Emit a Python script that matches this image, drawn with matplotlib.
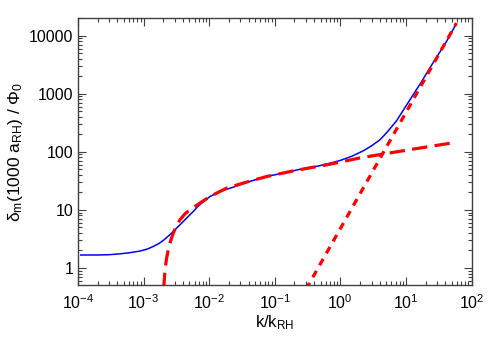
import matplotlib
matplotlib.use('Agg')
import matplotlib.pyplot as plt
from matplotlib.ticker import LogLocator, NullFormatter, FixedLocator, FixedFormatter

plt.rcParams['font.family'] = ['Liberation Sans', 'DejaVu Sans']
plt.rcParams['mathtext.fontset'] = 'custom'
plt.rcParams['mathtext.rm'] = 'Liberation Sans'
plt.rcParams['mathtext.it'] = 'Liberation Sans'

# full result (blue)
k_full = [1.1e-4, 2e-4, 3e-4, 4.4e-4, 6e-4, 8.8e-4, 1.15e-3, 1.41e-3, 1.7e-3, 2.0e-3, 2.4e-3,
          2.84e-3, 3.4e-3, 4.03e-3, 4.8e-3, 5.73e-3, 6.6e-3, 7.69e-3, 1.03e-2, 1.46e-2,
          2.33e-2, 4e-2, 7.5e-2, 0.14, 0.242, 0.45, 0.69, 1.0, 1.5, 2.24, 3.0, 4.0, 5.3,
          7.2, 9.5, 12.9, 17.0, 23.2, 31.0, 41.7, 55.8]
d_full = [1.67, 1.67, 1.69, 1.75, 1.82, 1.95, 2.12, 2.35, 2.62, 2.98, 3.55,
          4.26, 5.2, 6.3, 7.7, 9.4, 11.2, 13.1, 17.0, 20.7,
          24.6, 30.5, 37.5, 43.5, 50.0, 56.5, 63.5, 71.0, 84.0, 104.0, 127.0, 160.0, 225.0,
          342.0, 560.0, 960.0, 1560.0, 2790.0, 4700.0, 8000.0, 14500.0]

# log-growth approximation (long dash)
k_log = [2.03e-3, 2.12e-3, 2.24e-3, 2.38e-3, 2.6e-3, 2.84e-3, 3.2e-3, 3.59e-3, 4.3e-3, 5.09e-3,
         7.24e-3, 1.03e-2, 1.85e-2, 3.5e-2, 7.5e-2, 0.203, 0.69, 2.0, 11.5, 59.0]
d_log = [0.45, 0.93, 1.45, 2.06, 3.0, 4.0, 5.4, 6.76, 8.6, 10.0,
         13.1, 17.0, 23.7, 29.5, 37.5, 47.5, 61.0, 78.5, 109.0, 146.0]

# k^2 approximation (short dash)
k_pow = [0.3, 1.0, 3.0, 10.0, 30.0, 59.0]
d_pow = [0.43, 4.75, 42.8, 475.0, 4275.0, 16500.0]

fig = plt.figure(figsize=(5, 3.5), dpi=100)
ax = fig.add_axes([0.156, 0.186, 0.787, 0.762])

ax.plot(k_full, d_full, color='#0000ff', lw=1.1, zorder=2)
ax.plot(k_log, d_log, color='#ff0000', lw=2.3, dashes=(4.8, 2.3), zorder=3)
ax.plot(k_pow, d_pow, color='#ff0000', lw=2.3, dashes=(2.3, 2.0), zorder=3)

ax.set_xscale('log')
ax.set_yscale('log')
ax.set_xlim(1e-4, 1e2)
ax.set_ylim(0.51, 2.0e4)

ax.xaxis.set_major_locator(LogLocator(base=10, numticks=10))
ax.xaxis.set_minor_locator(LogLocator(base=10, subs=range(2, 10), numticks=20))
ax.xaxis.set_minor_formatter(NullFormatter())
yt = [1, 10, 100, 1000, 10000]
ax.yaxis.set_major_locator(FixedLocator(yt))
ax.yaxis.set_major_formatter(FixedFormatter([str(v) for v in yt]))
ax.yaxis.set_minor_locator(LogLocator(base=10, subs=range(2, 10), numticks=20))
ax.yaxis.set_minor_formatter(NullFormatter())

ax.tick_params(which='both', direction='in', top=True, right=True, colors='#404040',
               labelcolor='black', labelsize=11.5)
ax.tick_params(axis='x', which='major', pad=6)
ax.tick_params(which='major', length=6, width=0.8)
ax.tick_params(which='minor', length=3, width=0.8)
for s in ax.spines.values():
    s.set_color('#404040')
    s.set_linewidth(1.0)

ax.set_xlabel('k/k$_\\mathrm{RH}$', fontsize=12, labelpad=1)
ax.set_ylabel('δ$_\\mathrm{m}$(1000 a$_\\mathrm{RH}$) / Φ$_0$', fontsize=12.5, labelpad=3)

fig.savefig('out.png', dpi=100)
